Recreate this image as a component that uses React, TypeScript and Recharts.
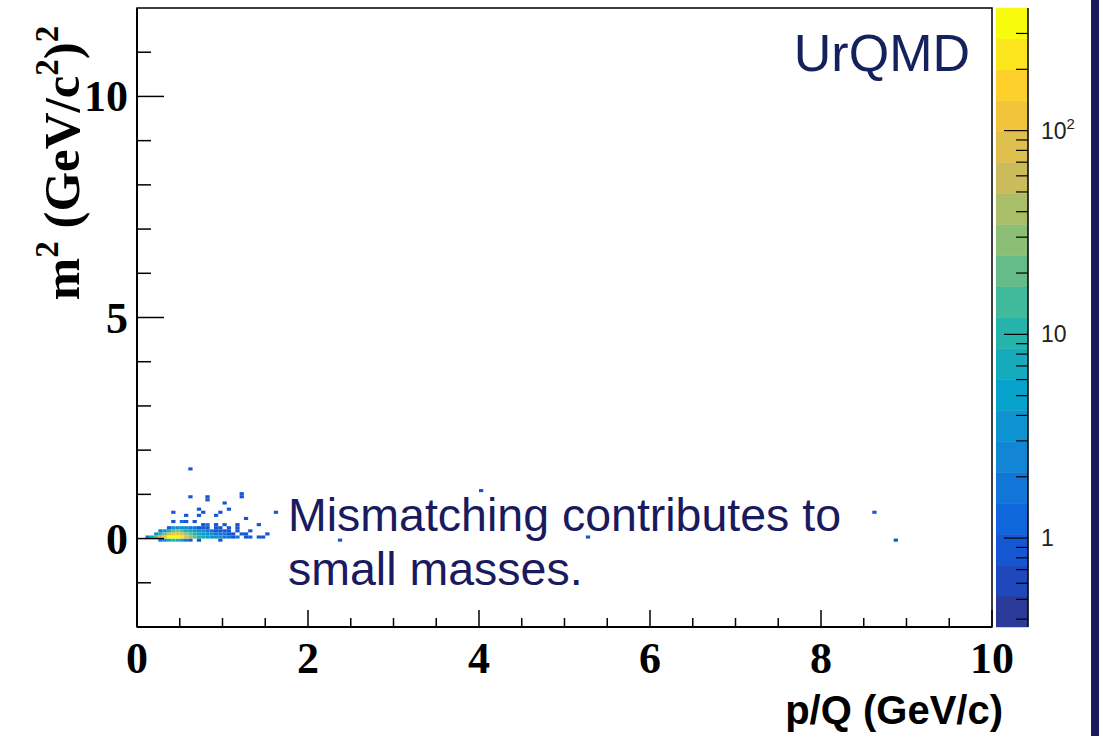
import React from 'react';
import {
  ScatterChart,
  Scatter,
  ComposedChart,
  XAxis,
  YAxis,
  ReferenceArea,
} from 'recharts';

// m^2 vs p/Q histogram bins: [p/Q bin centre, entries] per m^2 row
const ROW_BELOW: [number, number][] = [
  [0.275, 2], [0.325, 4], [0.375, 8], [0.425, 10], [0.475, 8], [0.525, 5],
  [0.575, 2], [0.625, 1], [0.725, 1], [0.975, 1],
];
const ROW_BASE: [number, number][] = [
  [0.125, 2], [0.175, 8], [0.225, 20], [0.275, 50], [0.325, 140], [0.375, 300],
  [0.425, 380], [0.475, 340], [0.525, 200], [0.575, 90], [0.625, 45], [0.675, 22],
  [0.725, 12], [0.775, 8], [0.825, 6], [0.875, 4], [0.925, 3], [0.975, 3],
  [1.025, 2], [1.075, 2], [1.125, 1], [1.175, 2], [1.275, 1], [1.325, 1],
  [1.425, 1], [1.475, 1],
];
const ROW_LOW: [number, number][] = [
  [0.225, 3], [0.275, 10], [0.325, 30], [0.375, 70], [0.425, 120], [0.475, 130],
  [0.525, 90], [0.575, 45], [0.625, 22], [0.675, 12], [0.725, 7], [0.775, 5],
  [0.825, 4], [0.875, 3], [0.925, 2], [0.975, 2], [1.025, 2], [1.075, 1],
  [1.125, 1], [1.225, 1], [1.275, 1], [1.525, 1],
];
const ROW_MID: [number, number][] = [
  [0.275, 2], [0.325, 5], [0.375, 12], [0.425, 22], [0.475, 25], [0.525, 18],
  [0.575, 12], [0.625, 7], [0.675, 5], [0.725, 3], [0.775, 3], [0.825, 2],
  [0.875, 2], [0.925, 1], [0.975, 1], [1.025, 1], [1.075, 1], [1.175, 1],
  [1.325, 1],
];
const ROW_TOP: [number, number][] = [
  [0.375, 1], [0.425, 3], [0.475, 4], [0.525, 4], [0.575, 3], [0.625, 2],
  [0.675, 2], [0.725, 1], [0.775, 1], [0.825, 1], [0.925, 1], [0.975, 1],
  [1.075, 1], [1.175, 1],
];
const ROW_M2 = [-0.035, 0.035, 0.105, 0.175, 0.245];

// isolated bins: [p/Q, m^2, entries]
const STRAY_BINS: [number, number, number][] = [
  [0.625, 1.575, 1], [0.625, 0.945, 1], [0.825, 0.945, 1], [0.825, 0.875, 1],
  [1.025, 0.805, 1], [1.225, 1.015, 1], [1.225, 0.945, 1], [1.075, 0.665, 1],
  [0.725, 0.665, 1], [0.775, 0.595, 1], [0.975, 0.595, 1], [0.425, 0.595, 1],
  [0.575, 0.525, 1], [0.725, 0.525, 1], [0.925, 0.525, 1], [1.275, 0.455, 1],
  [0.425, 0.385, 1], [0.525, 0.385, 2], [0.575, 0.385, 1], [0.675, 0.385, 1],
  [0.775, 0.315, 1], [0.825, 0.315, 2], [0.925, 0.315, 1], [1.025, 0.315, 1],
  [1.175, 0.315, 1], [1.425, 0.315, 1], [1.625, 0.595, 1], [2.375, -0.035, 1],
  [4.025, 1.085, 1], [5.275, 0.035, 1], [8.625, 0.595, 1], [8.875, -0.035, 1],
];

const X_TICKS = [0, 0.5, 1, 1.5, 2, 2.5, 3, 3.5, 4, 4.5, 5, 5.5, 6, 6.5, 7, 7.5, 8, 8.5, 9, 9.5, 10];
const Y_TICKS = [-1, 0, 1, 2, 3, 4, 5, 6, 7, 8, 9, 10, 11];
const Z_TICKS = [
  0.4, 0.5, 0.6, 0.7, 0.8, 0.9, 1, 2, 3, 4, 5, 6, 7, 8, 9,
  10, 20, 30, 40, 50, 60, 70, 80, 90, 100, 200, 300,
];

// kBird-like palette, 20 contour levels
const PALETTE = [
  '#2c3a9a', '#1f48bd', '#1556d2', '#1066db', '#1276d8', '#1385d5', '#0d94d0',
  '#07a2cb', '#15abbc', '#26b3ac', '#41b99b', '#66bc88', '#8bbf76', '#aabd69',
  '#cabb5c', '#dfbf4d', '#f2c43c', '#fdd02c', '#fbe61d', '#f9fb0e',
];
const Z_MIN = 0.366;
const Z_MAX = 400;

const W = 1099;
const H = 736;
const PLOT_L = 137;
const PLOT_R = 992;
const PLOT_T = 8;
const PLOT_B = 627;
const BIN_DX = 0.05;
const BIN_DY = 0.07;
const BIN_W = ((PLOT_R - PLOT_L) / 10) * BIN_DX;
const BIN_H = ((PLOT_B - PLOT_T) / 14) * BIN_DY;

const SERIF = "'Liberation Serif', 'Times New Roman', serif";
const SANS = "'Liberation Sans', Arial, sans-serif";
const NAVY = '#1a1a5e';

const rows = [ROW_BELOW, ROW_BASE, ROW_LOW, ROW_MID, ROW_TOP];
const bins = [
  ...rows.flatMap((row, i) => row.map(([p, n]) => ({ p, m2: ROW_M2[i], n }))),
  ...STRAY_BINS.map(([p, m2, n]) => ({ p, m2, n })),
];

const levelIndex = (n: number) => {
  const t = Math.log(n / Z_MIN) / Math.log(Z_MAX / Z_MIN);
  return Math.max(0, Math.min(PALETTE.length - 1, Math.floor(t * PALETTE.length)));
};

// contour level edges of the colour scale
const bands = PALETTE.map((color, i) => ({
  color,
  x: 0.5,
  lo: Z_MIN * Math.pow(Z_MAX / Z_MIN, i / PALETTE.length),
  hi: Z_MIN * Math.pow(Z_MAX / Z_MIN, (i + 1) / PALETTE.length),
}));

const BinCell = (props: any) => {
  const { cx, cy, payload } = props;
  return (
    <rect
      x={cx - BIN_W / 2}
      y={cy - BIN_H / 2}
      width={BIN_W}
      height={BIN_H}
      fill={PALETTE[levelIndex(payload.n)]}
    />
  );
};

const XTick = (props: any) => {
  const { x, y, payload } = props;
  const v = payload.value;
  const major = v % 2 === 0;
  return (
    <g>
      <line x1={x} x2={x} y1={y} y2={y - (major ? 17 : 9)} stroke="#000" strokeWidth={1.5} />
      {major && (
        <text x={x} y={y + 46} textAnchor="middle" fontFamily={SERIF} fontWeight="bold" fontSize={44} fill="#000">
          {v}
        </text>
      )}
    </g>
  );
};

const YTick = (props: any) => {
  const { x, y, payload } = props;
  const v = payload.value;
  const major = v % 5 === 0;
  return (
    <g>
      <line x1={x} x2={x + (major ? 27 : 14)} y1={y} y2={y} stroke="#000" strokeWidth={1.5} />
      {major && (
        <text x={x - 9} y={y + 15} textAnchor="end" fontFamily={SERIF} fontWeight="bold" fontSize={44} fill="#000">
          {v}
        </text>
      )}
    </g>
  );
};

const ZTick = (props: any) => {
  const { x, y, payload } = props;
  const v = payload.value;
  const major = v === 1 || v === 10 || v === 100;
  return (
    <g>
      <line x1={x} x2={x - (major ? 24 : 12)} y1={y} y2={y} stroke="#000" strokeWidth={1.2} />
      {major && (
        <text x={x + 13} y={y + 8} fontFamily={SANS} fontSize={23} fill="#222">
          {v === 100 ? (
            <>
              10
              <tspan dy={-10} fontSize={15}>2</tspan>
            </>
          ) : (
            v
          )}
        </text>
      )}
    </g>
  );
};

export default function App() {
  return (
    <div style={{ position: 'absolute', left: 0, top: 0, width: W, height: H, background: '#fff', overflow: 'hidden' }}>
      <div style={{ position: 'absolute', left: 0, top: 0 }}>
        <ScatterChart width={W} height={H} margin={{ top: PLOT_T, right: W - PLOT_R, bottom: 0, left: 0 }}>
          <Scatter data={bins} dataKey="m2" shape={(p: any) => <BinCell {...p} />} isAnimationActive={false} />
          <ReferenceArea x1={0} x2={10} y1={-2} y2={12} fill="none" stroke="#000" strokeWidth={1.5} ifOverflow="visible" />
          <XAxis
            type="number"
            dataKey="p"
            domain={[0, 10]}
            ticks={X_TICKS}
            interval={0}
            height={H - PLOT_B}
            allowDataOverflow
            tickSize={0}
            tickMargin={0}
            tickLine={false}
            axisLine={{ stroke: '#000', strokeWidth: 2 }}
            tick={(p: any) => <XTick {...p} />}
          />
          <YAxis
            type="number"
            dataKey="m2"
            domain={[-2, 12]}
            ticks={Y_TICKS}
            interval={0}
            width={PLOT_L}
            allowDataOverflow
            tickSize={0}
            tickMargin={0}
            tickLine={false}
            axisLine={{ stroke: '#000', strokeWidth: 2 }}
            tick={(p: any) => <YTick {...p} />}
          />
        </ScatterChart>
      </div>

      {/* colour scale */}
      <div style={{ position: 'absolute', left: 996, top: 0 }}>
        <ComposedChart
          width={103}
          height={H}
          data={bands}
          margin={{ top: PLOT_T, right: 0, bottom: H - PLOT_B, left: 0 }}
        >
          <XAxis type="number" dataKey="x" domain={[0, 1]} height={0} tick={false} axisLine={false} tickLine={false} />
          {bands.map((b, i) => (
            <ReferenceArea
              key={i}
              x1={0}
              x2={1}
              y1={b.lo}
              y2={b.hi}
              fill={b.color}
              fillOpacity={1}
              stroke={b.color}
              strokeWidth={0.5}
              ifOverflow="visible"
            />
          ))}
          <Scatter dataKey="lo" shape={() => <g />} isAnimationActive={false} />
          <YAxis
            type="number"
            scale="log"
            domain={[Z_MIN, Z_MAX]}
            allowDataOverflow
            orientation="right"
            width={71}
            ticks={Z_TICKS}
            interval={0}
            tickSize={0}
            tickMargin={0}
            tickLine={false}
            axisLine={{ stroke: '#000', strokeWidth: 1.5 }}
            tick={(p: any) => <ZTick {...p} />}
          />
        </ComposedChart>
      </div>

      <svg width={W} height={H} style={{ position: 'absolute', left: 0, top: 0, pointerEvents: 'none' }}>
        <rect x={1091} y={0} width={8} height={H} fill={NAVY} />
        <text x={970} y={71} textAnchor="end" fontFamily={SANS} fontSize={52} fill="#14215c">
          UrQMD
        </text>
        <text x={288} y={531} fontFamily={SANS} fontSize={46.5} fill={NAVY}>
          Mismatching contributes to
        </text>
        <text x={288} y={585} fontFamily={SANS} fontSize={46.5} fill={NAVY}>
          small masses.
        </text>
        <text x={1003} y={724} textAnchor="end" fontFamily={SANS} fontWeight="bold" fontSize={40} fill="#000">
          p/Q (GeV/c)
        </text>
        <text
          transform="translate(79,163) rotate(-90)"
          textAnchor="middle"
          fontFamily={SERIF}
          fontWeight="bold"
          fontSize={51}
          fill="#000"
        >
          m<tspan dy={-21} fontSize={33}>2</tspan>
          <tspan dy={21} fontSize={51}> (GeV/c</tspan>
          <tspan dy={-21} fontSize={33}>2</tspan>
          <tspan dy={21} fontSize={51}>)</tspan>
          <tspan dy={-21} fontSize={33}>2</tspan>
        </text>
      </svg>
    </div>
  );
}
